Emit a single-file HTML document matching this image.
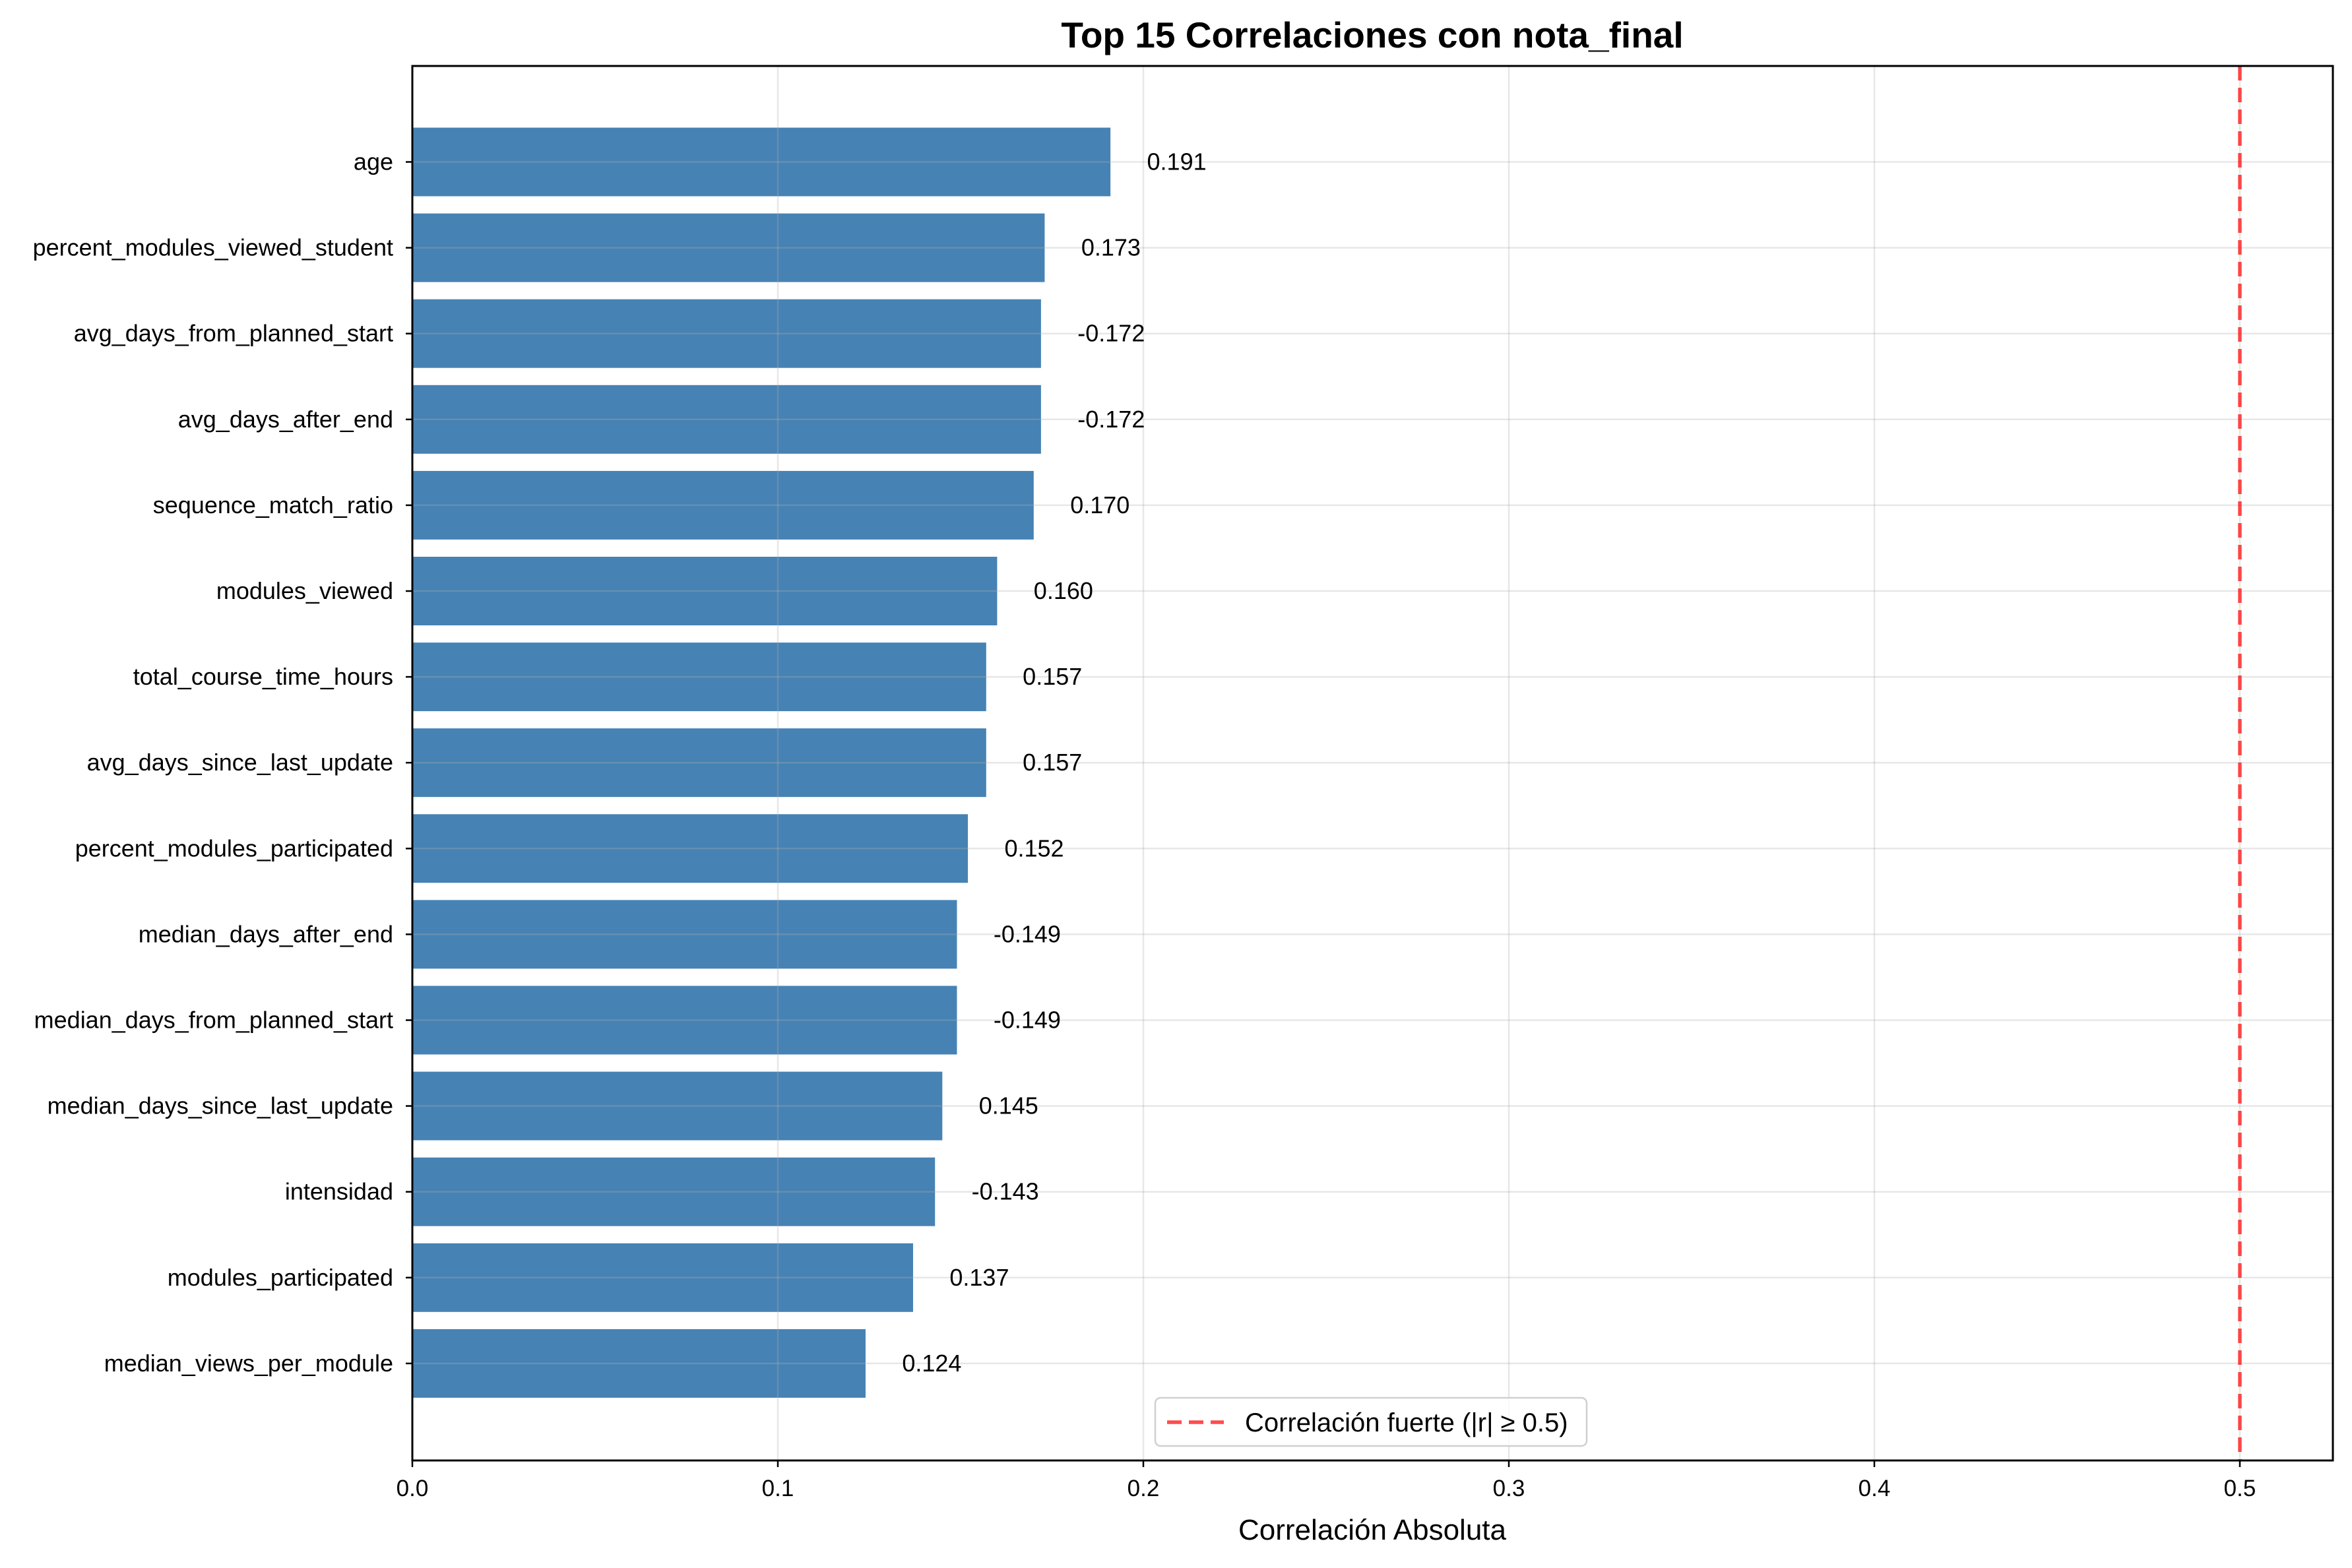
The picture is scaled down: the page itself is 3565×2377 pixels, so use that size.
<!DOCTYPE html>
<html><head><meta charset="utf-8"><style>
html,body{margin:0;padding:0;background:#fff}
svg text{font-family:"Liberation Sans",sans-serif}
</style></head><body>
<svg id="chart" width="3565" height="2372" viewBox="0 0 3565 2372" xmlns="http://www.w3.org/2000/svg">
<rect width="3565" height="2372" fill="#fff"/>
<g id="grid"></g><g id="bars"></g><g id="gridTop"></g><g id="axes"></g><g id="labels"></g>
</svg>
<script>
const categories = ["age","percent_modules_viewed_student","avg_days_from_planned_start","avg_days_after_end","sequence_match_ratio","modules_viewed","total_course_time_hours","avg_days_since_last_update","percent_modules_participated","median_days_after_end","median_days_from_planned_start","median_days_since_last_update","intensidad","modules_participated","median_views_per_module"];
const values = [0.191,0.173,-0.172,-0.172,0.170,0.160,0.157,0.157,0.152,-0.149,-0.149,0.145,-0.143,0.137,0.124];
const xTicks = [0.0,0.1,0.2,0.3,0.4,0.5];
const threshold = [0.5];

const NS="http://www.w3.org/2000/svg";
const L=625,R=3536,T=100,B=2214;
const xMax=(R-L)/5540;
function xs(v){return L+v/xMax*(R-L);}
const pitch=130.1, y0=245.5;
function ys(i){return y0+i*pitch;}
function mk(tag,attrs,parent,text){const e=document.createElementNS(NS,tag);for(const k in attrs)e.setAttribute(k,attrs[k]);if(text!==undefined)e.textContent=text;document.getElementById(parent).appendChild(e);return e;}

values.forEach((v,i)=>{
  const a=Math.abs(v);
  const r=mk('rect',{x:xs(0),y:ys(i)-52,width:xs(a)-xs(0),height:104,fill:'#4682b4'},'bars');
  
  
  const t=mk('text',{x:xs(a+0.01),y:ys(i)+12,'font-size':36,fill:'#000'},'labels',v.toFixed(3));
  
  
  const yl=mk('text',{x:596,y:ys(i)+12,'font-size':36,'text-anchor':'end',fill:'#000'},'labels',categories[i]);
  
  
  const tk=mk('line',{x1:L-10,x2:L,y1:ys(i),y2:ys(i),stroke:'#000','stroke-width':2.5},'axes');
  
  
  const g=mk('line',{x1:L,x2:R,y1:ys(i),y2:ys(i),stroke:'#b0b0b0','stroke-opacity':0.3,'stroke-width':2.5},'gridTop');
  
  
});
xTicks.forEach(v=>{
  const g=mk('line',{x1:xs(v),x2:xs(v),y1:T,y2:B,stroke:'#b0b0b0','stroke-opacity':0.3,'stroke-width':2.5},'gridTop');
  
  
  const tk=mk('line',{x1:xs(v),x2:xs(v),y1:B,y2:B+10,stroke:'#000','stroke-width':2.5},'axes');
  
  
  const t=mk('text',{x:xs(v),y:B+54,'font-size':35,'text-anchor':'middle',fill:'#000'},'labels',v.toFixed(1));
  
  
});
threshold.forEach(v=>{
  const l=mk('line',{x1:xs(v),x2:xs(v),y1:T,y2:B,stroke:'#ff0000','stroke-opacity':0.7,'stroke-width':5.5,'stroke-dasharray':'22 11'},'gridTop');
  
  
});
const fr=mk('rect',{x:L,y:T,width:R-L,height:B-T,fill:'none',stroke:'#000','stroke-width':3},'axes');


</script>
<svg x="0" y="0" width="3565" height="2372" style="position:absolute;left:0;top:0">
<text x="2080" y="72" font-size="55" font-weight="bold" text-anchor="middle" font-family="Liberation Sans, sans-serif">Top 15 Correlaciones con nota_final</text>
<text x="2080" y="2334" font-size="44" text-anchor="middle" font-family="Liberation Sans, sans-serif">Correlación Absoluta</text>
<g>
<rect x="1751" y="2119" width="654" height="73" rx="8" fill="#fff" fill-opacity="0.8" stroke="#d0d0d0" stroke-width="2.5"/>
<line x1="1769" x2="1855" y1="2156" y2="2156" stroke="#ff0000" stroke-opacity="0.7" stroke-width="5.5" stroke-dasharray="22 11"/>
<text x="1887" y="2170" font-size="40" font-family="Liberation Sans, sans-serif">Correlación fuerte (|r| ≥ 0.5)</text>
</g>
</svg>
</body></html>
